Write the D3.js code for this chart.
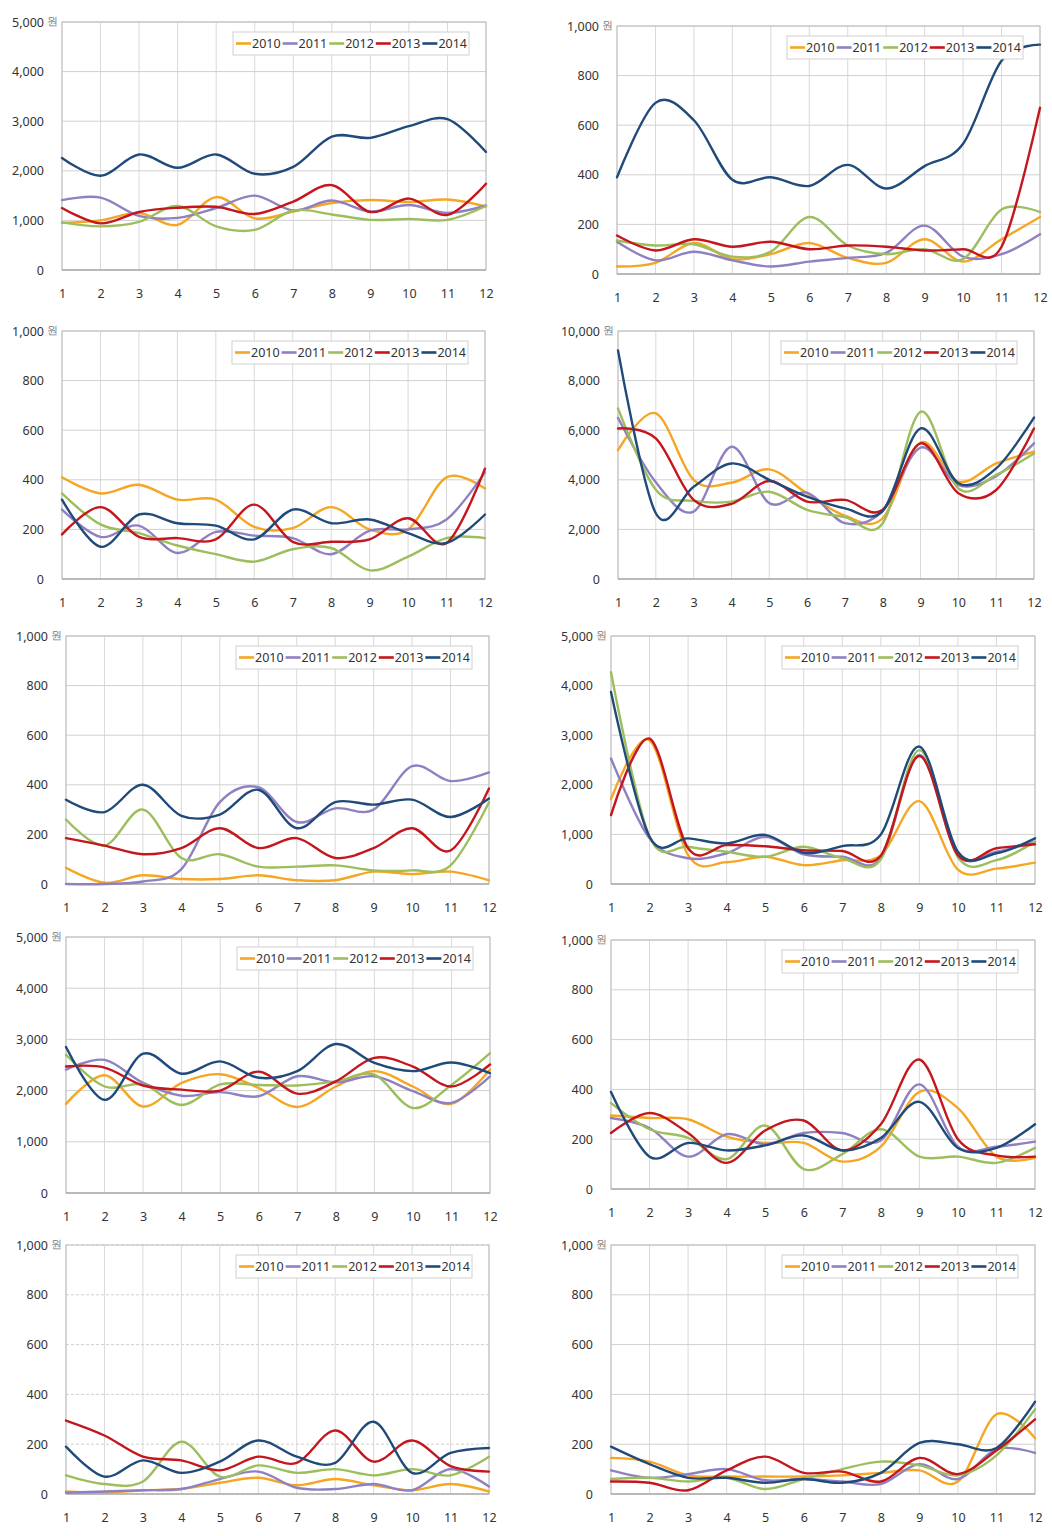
<!DOCTYPE html>
<html><head><meta charset="utf-8">
<script src="https://cdn.jsdelivr.net/npm/d3@7"></script>
<style>body{margin:0;background:#fff}svg{display:block}text{font-family:"Noto Sans","Open Sans",sans-serif}</style>
</head><body>
<svg id="c" width="1052" height="1536"></svg>
<script>
// ---- data ----
const months = [1,2,3,4,5,6,7,8,9,10,11,12];
const years = ["2010","2011","2012","2013","2014"];
const colors = ["#F5A623","#8F80C2","#9DBE5C","#C4161C","#1F4A7A"];
const yMaxes = [5000,1000,1000,10000,1000,5000,5000,1000,1000,1000];
const unit = "원";

const panel1 = [
  [950,1000,1150,910,1470,1040,1180,1350,1410,1370,1420,1280],
  [1410,1460,1090,1050,1250,1500,1200,1400,1180,1310,1150,1300],
  [960,880,970,1290,880,810,1200,1120,1010,1030,1010,1290],
  [1250,940,1170,1255,1275,1130,1380,1710,1170,1440,1110,1740],
  [2260,1900,2330,2060,2330,1940,2080,2690,2665,2900,3040,2380]
];
const panel2 = [
  [30,45,125,60,80,125,65,45,140,50,140,230],
  [130,55,90,55,30,50,65,85,195,70,80,160],
  [135,115,120,70,90,230,115,80,100,60,260,250],
  [155,95,140,110,130,100,115,110,95,100,110,670],
  [390,690,620,380,390,355,440,345,435,525,860,925]
];
const panel3 = [
  [410,345,380,320,320,210,205,290,200,200,410,365],
  [280,170,215,105,190,175,165,100,195,200,240,430],
  [345,220,185,135,100,70,120,125,35,90,165,165],
  [180,290,170,165,160,300,150,150,160,245,145,445],
  [320,130,260,225,215,160,280,225,240,185,145,260]
];
const panel4 = [
  [5200,6680,4000,3880,4420,3450,2550,2450,5500,3930,4660,5130],
  [6500,3900,2720,5330,3060,3480,2250,2750,5300,3790,4150,5470],
  [6880,3600,3150,3120,3520,2790,2500,2250,6740,3650,4200,5060],
  [6070,5670,3190,3030,3950,3120,3190,2790,5470,3460,3590,6070],
  [9220,2650,3720,4660,4000,3320,2850,2750,6070,3860,4460,6510]
];
const panel5 = [
  [65,5,35,20,20,35,15,15,50,40,50,15],
  [0,0,10,60,330,390,250,305,300,475,415,450],
  [260,155,300,105,120,70,70,75,55,55,75,330],
  [185,155,120,145,225,145,185,105,145,225,135,385],
  [340,290,400,275,280,380,225,330,320,340,270,345]
];
const panel6 = [
  [1710,2900,580,440,550,380,480,580,1670,290,310,430],
  [2530,920,520,620,950,600,550,520,2600,600,650,850],
  [4270,950,750,650,550,750,520,500,2700,540,480,850],
  [1390,2930,720,785,760,680,665,570,2580,580,720,800],
  [3870,950,920,820,990,630,765,1000,2770,650,620,920]
];
const panel7 = [
  [1740,2300,1690,2150,2320,2050,1680,2080,2380,2080,1740,2410],
  [2410,2600,2150,1900,1970,1890,2280,2160,2280,1990,1760,2280],
  [2700,2080,2120,1720,2120,2110,2100,2180,2310,1660,2110,2730],
  [2470,2450,2100,2020,2000,2370,1940,2180,2640,2470,2080,2510],
  [2850,1820,2720,2330,2570,2250,2380,2910,2540,2380,2550,2340]
];
const panel8 = [
  [295,285,280,210,185,185,110,170,390,325,130,125],
  [285,245,130,220,180,225,225,195,420,170,170,190],
  [345,240,205,120,255,80,140,240,130,130,105,165],
  [225,305,225,105,235,275,155,260,520,200,135,130],
  [390,130,185,155,175,215,155,205,350,165,165,260]
];
const panel9 = [
  [10,5,15,20,45,65,35,60,35,15,40,10],
  [5,10,15,20,60,90,25,20,40,15,100,30],
  [75,40,50,210,70,115,85,100,75,100,75,150],
  [295,235,150,135,95,150,125,255,130,215,112,90],
  [190,70,135,85,130,215,150,125,290,85,165,185]
];
const panel10 = [
  [145,130,75,70,70,70,75,85,95,50,320,225],
  [95,65,80,100,55,60,50,40,120,60,180,165],
  [60,65,50,65,20,60,100,130,115,75,155,340],
  [50,45,15,95,150,85,90,50,145,80,175,300],
  [190,120,65,65,45,60,45,85,205,200,185,370]
];
const allPanels = [panel1,panel2,panel3,panel4,panel5,panel6,panel7,panel8,panel9,panel10];

// ---- layout (positions only) ----
const boxes = [
  {l:62,r:486,t:22,b:270},{l:617,r:1040,t:26,b:274},
  {l:62,r:485,t:331,b:579},{l:618,r:1034,t:331,b:579},
  {l:66,r:489,t:636,b:884},{l:611,r:1035,t:636,b:884},
  {l:66,r:490,t:937,b:1193},{l:611,r:1035,t:940,b:1189},
  {l:66,r:489,t:1245,b:1494},{l:611,r:1035,t:1245,b:1494}
];

const svg = d3.select("#c");
const fmt = d3.format(",");

allPanels.forEach((series, i) => {
  const bx = boxes[i];
  const yMax = yMaxes[i];
  const x = d3.scaleLinear().domain([1,12]).range([bx.l, bx.r]);
  const y = d3.scaleLinear().domain([0,yMax]).range([bx.b, bx.t]);
  const g = svg.append("g");
  const ticks = y.ticks(5);

  // grid
  g.append("g").selectAll("line").data(months).join("line")
    .attr("x1", d=>x(d)).attr("x2", d=>x(d)).attr("y1", bx.t).attr("y2", bx.b)
    .attr("stroke", "#d9d9d9").attr("stroke-width", 1);
  g.append("g").selectAll("line").data(ticks).join("line")
    .attr("x1", bx.l).attr("x2", bx.r).attr("y1", d=>y(d)).attr("y2", d=>y(d))
    .attr("stroke", "#d0d0d0").attr("stroke-width", 1)
    .attr("stroke-dasharray", i===8 ? "3,2" : null);
  g.append("rect").attr("x", bx.l).attr("y", bx.t).attr("width", bx.r-bx.l).attr("height", bx.b-bx.t)
    .attr("fill","none").attr("stroke","#bdbdbd").attr("stroke-width",1);
  g.append("line").attr("x1",bx.l).attr("x2",bx.r).attr("y1",bx.b).attr("y2",bx.b)
    .attr("stroke","#a0a0a0").attr("stroke-width",1.2);

  // axes
  const ya = d3.axisLeft(y).tickValues(ticks).tickFormat(fmt).tickSize(0).tickPadding(18);
  const yg = g.append("g").attr("transform",`translate(${bx.l},0)`).call(ya);
  yg.select(".domain").remove();
  yg.selectAll("text").attr("font-size",12.5).attr("fill","#333");
  // unit on top tick
  g.append("text").attr("x", bx.l-15).attr("y", y(yMax)).attr("dy","0.32em")
    .attr("font-size",10.5).attr("fill","#808080").text(unit);

  const xa = d3.axisBottom(x).tickValues(months).tickFormat(d=>d).tickSize(0).tickPadding(19);
  const xg = g.append("g").attr("transform",`translate(0,${bx.b})`).call(xa);
  xg.select(".domain").remove();
  xg.selectAll("text").attr("font-size",12.5).attr("fill","#333");

  // lines
  const line = d3.line().x((d,k)=>x(months[k])).y(d=>y(d)).curve(d3.curveCardinal.tension(0));
  g.append("g").selectAll("path").data(series).join("path")
    .attr("d", line).attr("fill","none")
    .attr("stroke",(d,k)=>colors[k]).attr("stroke-width",2.4)
    .attr("stroke-linejoin","round").attr("stroke-linecap","round");

  // legend
  const lw = 236, lh = 23;
  const lx = bx.r - 17 - lw, ly = bx.t + 10;
  const lg = g.append("g").attr("transform",`translate(${lx},${ly})`);
  lg.append("rect").attr("width",lw).attr("height",lh).attr("fill","#fff")
    .attr("stroke","#d0d0d0").attr("stroke-width",1);
  const it = lg.selectAll("g").data(years).join("g")
    .attr("transform",(d,k)=>`translate(${3+k*46.6},${lh/2})`);
  it.append("line").attr("x1",0).attr("x2",15).attr("y1",0).attr("y2",0)
    .attr("stroke",(d,k)=>colors[k]).attr("stroke-width",2.6);
  it.append("text").attr("x",16).attr("dy","0.35em").attr("font-size",12.5)
    .attr("fill","#333").text(d=>d);
});
</script>
</body></html>
